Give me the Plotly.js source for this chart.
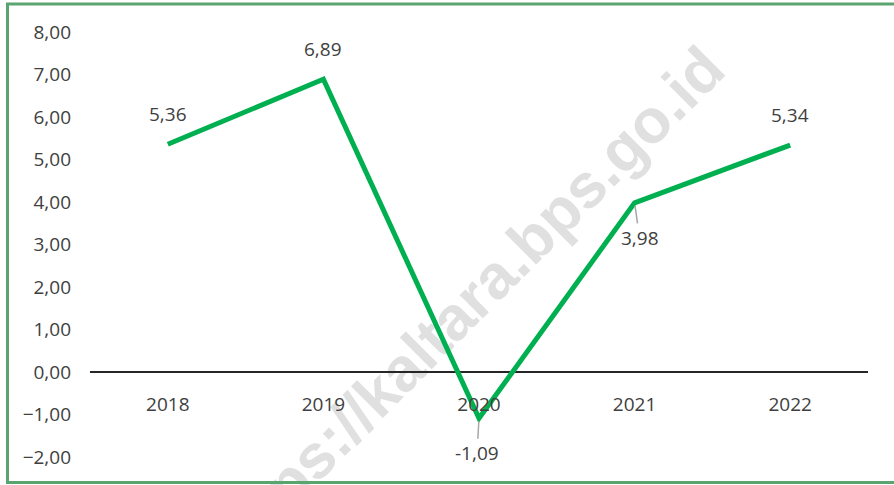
<!DOCTYPE html>
<html>
<head>
<meta charset="utf-8">
<script src="https://cdn.plot.ly/plotly-3.0.1.min.js"></script>
<style>html,body{margin:0;padding:0;background:#fff;}#chart{width:894px;height:485px;}</style>
</head>
<body>
<div id="chart"></div>
<script>
const years = ['2018', '2019', '2020', '2021', '2022'];
const growth = [5.36, 6.89, -1.09, 3.98, 5.34];
const yTicks = [-2, -1, 0, 1, 2, 3, 4, 5, 6, 7, 8];
const labelBelow = [false, false, true, true, false];
const watermark = 'https://kaltara.bps.go.id';

const fmt = v => v.toFixed(2).replace('.', ',');
const font = {family: 'Open Sans, Lato, sans-serif', size: 19, color: '#404040'};

const annotations = years.map((yr, i) => {
  if (labelBelow[i]) {
    return {x: i, y: growth[i], xref: 'x', yref: 'y', text: fmt(growth[i]),
      showarrow: true, arrowhead: 0, arrowwidth: 1.5, arrowcolor: '#a6a6a6',
      ax: i === 3 ? 5 : -2, ay: 35, standoff: 3, font: font};
  }
  return {x: i, y: growth[i], xref: 'x', yref: 'y', text: fmt(growth[i]),
    showarrow: false, yshift: 30, font: font};
});

const data = [{
  x: years, y: growth, type: 'scatter', mode: 'lines',
  line: {color: '#00B050', width: 5}, hoverinfo: 'skip'
}];

const layout = {
  width: 894, height: 485,
  margin: {l: 90, r: 26, t: 32, b: 28},
  paper_bgcolor: '#ffffff', plot_bgcolor: 'rgba(0,0,0,0)',
  separators: ',.',
  showlegend: false,
  font: font,
  xaxis: {type: 'category', range: [-0.5, 4.5], anchor: 'free', position: 0.2,
    showline: false, showgrid: false, zeroline: false, ticks: '',
    ticklabelstandoff: 19, tickfont: font, fixedrange: true},
  yaxis: {range: [-2, 8], tickvals: yTicks, tickformat: '.2f', showgrid: false,
    zeroline: true, zerolinecolor: '#262626', zerolinewidth: 1.5,
    showline: false, ticks: '', ticklabelstandoff: 18, tickfont: font, fixedrange: true},
  annotations: annotations,
  shapes: [
    {type: 'line', xref: 'paper', yref: 'paper', layer: 'below',
      x0: 0.2391, y0: -0.193, x1: 0.7841, y1: 0.8047,
      line: {width: 0, color: 'rgba(0,0,0,0)'},
      label: {text: watermark, textposition: 'middle', textangle: 'auto',
        font: {family: 'Liberation Sans, Arial, sans-serif', size: 62, color: '#e0e0e0', weight: 'bold'}}},
    {type: 'rect', xref: 'paper', yref: 'paper', layer: 'above',
      x0: (7.5 - 90) / 778, x1: (900 - 90) / 778, y0: (457 - 482.5) / 425, y1: (457 - 4) / 425,
      line: {color: '#5aa470', width: 3}}
  ]
};

Plotly.newPlot('chart', data, layout, {staticPlot: true});
</script>
</body>
</html>
